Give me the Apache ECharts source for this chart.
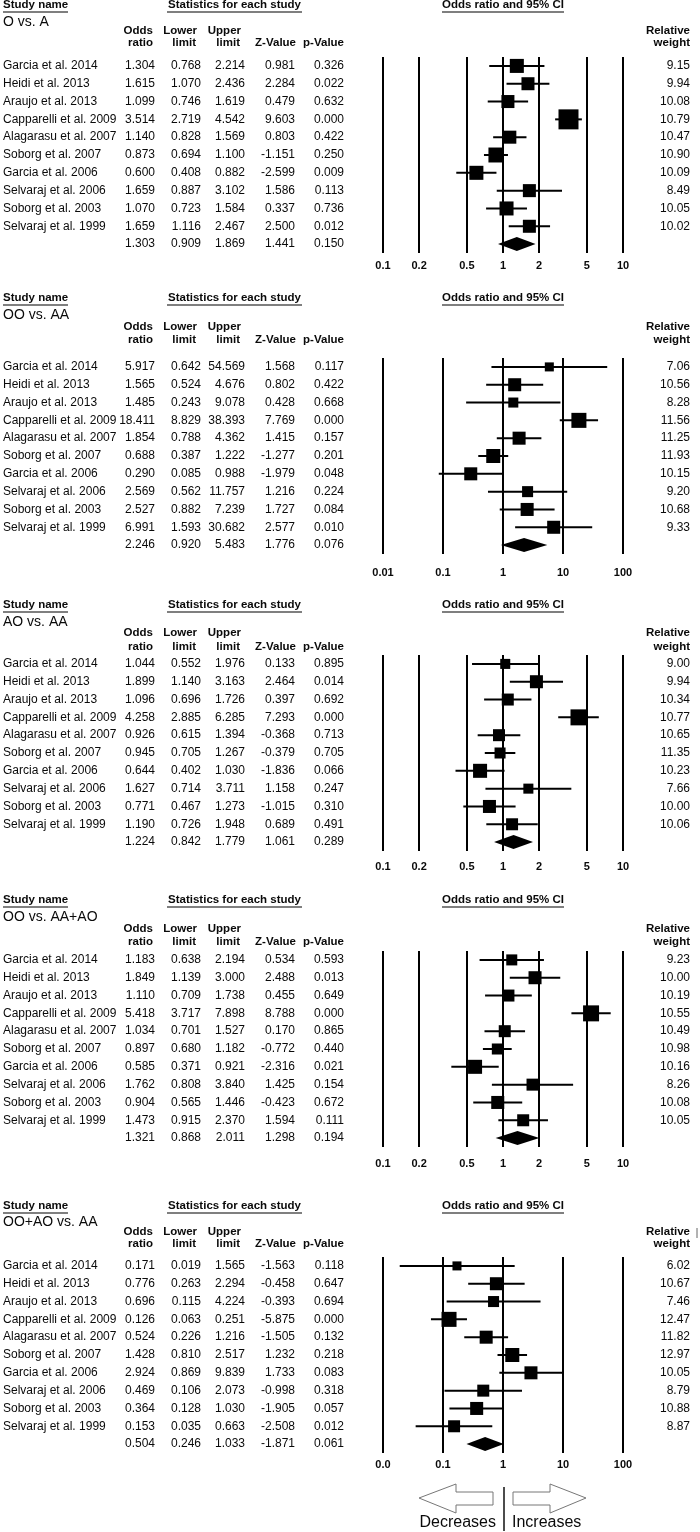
<!DOCTYPE html>
<html><head><meta charset="utf-8">
<script src="https://cdn.jsdelivr.net/npm/echarts@6/dist/echarts.min.js"></script>
<style>html,body{margin:0;padding:0;background:#fff}#c{width:700px;height:1532px}</style>
</head><body><div id="c"></div><script>
// ---------- DATA ----------
const studies = ['Garcia et al. 2014','Heidi et al. 2013','Araujo et al. 2013','Capparelli et al. 2009','Alagarasu et al. 2007','Soborg et al. 2007','Garcia et al. 2006','Selvaraj et al. 2006','Soborg et al. 2003','Selvaraj et al. 1999',''];
const titles = ['O vs. A','OO vs. AA','AO vs. AA','OO vs. AA+AO','OO+AO vs. AA'];

// Panel 1: O vs. A (last entry = pooled)
const or1 = [1.304,1.615,1.099,3.514,1.140,0.873,0.600,1.659,1.070,1.659,1.303];
const lo1 = [0.768,1.070,0.746,2.719,0.828,0.694,0.408,0.887,0.723,1.116,0.909];
const hi1 = [2.214,2.436,1.619,4.542,1.569,1.100,0.882,3.102,1.584,2.467,1.869];
const z1  = [0.981,2.284,0.479,9.603,0.803,-1.151,-2.599,1.586,0.337,2.500,1.441];
const p1  = [0.326,0.022,0.632,0.000,0.422,0.250,0.009,0.113,0.736,0.012,0.150];
const w1  = [9.15,9.94,10.08,10.79,10.47,10.90,10.09,8.49,10.05,10.02];
const fw1 = [12.3,10.6,10.6,25,10.6,14,12.3,10.6,12.3,10.6]; // estimated fixed-effect weights (box area)

// Panel 2: OO vs. AA
const or2 = [5.917,1.565,1.485,18.411,1.854,0.688,0.290,2.569,2.527,6.991,2.246];
const lo2 = [0.642,0.524,0.243,8.829,0.788,0.387,0.085,0.562,0.882,1.593,0.920];
const hi2 = [54.569,4.676,9.078,38.393,4.362,1.222,0.988,11.757,7.239,30.682,5.483];
const z2  = [1.568,0.802,0.428,7.769,1.415,-1.277,-1.979,1.216,1.727,2.577,1.776];
const p2  = [0.117,0.422,0.668,0.000,0.157,0.201,0.048,0.224,0.084,0.010,0.076];
const w2  = [7.06,10.56,8.28,11.56,11.25,11.93,10.15,9.20,10.68,9.33];
const fw2 = [5.1,10.6,6.3,14.1,10.6,12.3,10.6,7.6,10.6,10.6];

// Panel 3: AO vs. AA
const or3 = [1.044,1.899,1.096,4.258,0.926,0.945,0.644,1.627,0.771,1.190,1.224];
const lo3 = [0.552,1.140,0.696,2.885,0.615,0.705,0.402,0.714,0.467,0.726,0.842];
const hi3 = [1.976,3.163,1.726,6.285,1.394,1.267,1.030,3.711,1.273,1.948,1.779];
const z3  = [0.133,2.464,0.397,7.293,-0.368,-0.379,-1.836,1.158,-1.015,0.689,1.061];
const p3  = [0.895,0.014,0.692,0.000,0.713,0.705,0.066,0.247,0.310,0.491,0.289];
const w3  = [9.00,9.94,10.34,10.77,10.65,11.35,10.23,7.66,10.00,10.06];
const fw3 = [6.3,10.6,9,16,9,7.6,12.3,6.3,10.6,9];

// Panel 4: OO vs. AA+AO
const or4 = [1.183,1.849,1.110,5.418,1.034,0.897,0.585,1.762,0.904,1.473,1.321];
const lo4 = [0.638,1.139,0.709,3.717,0.701,0.680,0.371,0.808,0.565,0.915,0.868];
const hi4 = [2.194,3.000,1.738,7.898,1.527,1.182,0.921,3.840,1.446,2.370,2.011];
const z4  = [0.534,2.488,0.455,8.788,0.170,-0.772,-2.316,1.425,-0.423,1.594,1.298];
const p4  = [0.593,0.013,0.649,0.000,0.865,0.440,0.021,0.154,0.672,0.111,0.194];
const w4  = [9.23,10.00,10.19,10.55,10.49,10.98,10.16,8.26,10.08,10.05];
const fw4 = [7.6,10.6,9,16,9,7.6,12.3,9,10.6,9];

// Panel 5: OO+AO vs. AA
const or5 = [0.171,0.776,0.696,0.126,0.524,1.428,2.924,0.469,0.364,0.153,0.504];
const lo5 = [0.019,0.263,0.115,0.063,0.226,0.810,0.869,0.106,0.128,0.035,0.246];
const hi5 = [1.565,2.294,4.224,0.251,1.216,2.517,9.839,2.073,1.030,0.663,1.033];
const z5  = [-1.563,-0.458,-0.393,-5.875,-1.505,1.232,1.733,-0.998,-1.905,-2.508,-1.871];
const p5  = [0.118,0.647,0.694,0.000,0.132,0.218,0.083,0.318,0.057,0.012,0.061];
const w5  = [6.02,10.67,7.46,12.47,11.82,12.97,10.05,8.79,10.88,8.87];
const fw5 = [5.1,10.6,7.6,14.1,10.6,12.3,10.6,9,10.6,9];

const ticksA = [0.1,0.2,0.5,1,2,5,10];
const tickLabelsA = ['0.1','0.2','0.5','1','2','5','10'];
const ticksB = [0.01,0.1,1,10,100];
const tickLabelsB = ['0.01','0.1','1','10','100'];
const tickLabelsE = ['0.0','0.1','1','10','100'];

// ---------- LAYOUT ----------
const FF = '"Liberation Sans", Arial, sans-serif';
const panels = [
  {or:or1,lo:lo1,hi:hi1,z:z1,p:p1,w:w1,fw:fw1,ticks:ticksA,tl:tickLabelsA, sy:5,   ty:22,   h1:31,   h2:43,   row0:66,   lm:7},
  {or:or2,lo:lo2,hi:hi2,z:z2,p:p2,w:w2,fw:fw2,ticks:ticksB,tl:tickLabelsB, sy:298, ty:315,  h1:327,  h2:340,  row0:367,  lm:13},
  {or:or3,lo:lo3,hi:hi3,z:z3,p:p3,w:w3,fw:fw3,ticks:ticksA,tl:tickLabelsA, sy:605, ty:622,  h1:633,  h2:647,  row0:664,  lm:10},
  {or:or4,lo:lo4,hi:hi4,z:z4,p:p4,w:w4,fw:fw4,ticks:ticksA,tl:tickLabelsA, sy:900, ty:917,  h1:929,  h2:942,  row0:960,  lm:11},
  {or:or5,lo:lo5,hi:hi5,z:z5,p:p5,w:w5,fw:fw5,ticks:ticksB,tl:tickLabelsE, sy:1206,ty:1222, h1:1232, h2:1244, row0:1266, lm:6}
];

const chart = echarts.init(document.getElementById('c'), null, {renderer:'canvas'});
const option = {animation:false, backgroundColor:'#fff', grid:[], xAxis:[], yAxis:[], series:[], graphic:[]};
const GL = 383, GW = 240, GH = 196;
const cats = studies.map((_, i) => String(i));
const f3 = a => a.map(v => v.toFixed(3));
const INK = '#0a0a0a';

function txt(text, x, y, font, align) {
  return {type:'text', x, y, silent:true, style:{text, font, fill:INK, align:align||'left', verticalAlign:'middle'}};
}
function hline(x1, x2, y) {
  return {type:'line', silent:true, shape:{x1, y1:y, x2, y2:y}, style:{stroke:'#555', lineWidth:1.5}};
}
const HB = 'bold 11.5px ' + FF;

panels.forEach((P, k) => {
  const top = P.row0 - 9;
  option.grid.push({left:GL, width:GW, top, height:GH});
  option.xAxis.push({
    type:'log', logBase:10, gridIndex:k, min:P.ticks[0], max:P.ticks[P.ticks.length-1],
    axisLine:{show:false}, axisTick:{show:false, customValues:P.ticks}, splitLine:{show:false},
    axisLabel:{customValues:P.ticks, margin:P.lm, color:INK, fontSize:11, fontWeight:'bold', fontFamily:FF,
      formatter: v => { const i = P.ticks.findIndex(t => Math.abs(Math.log10(t) - Math.log10(v)) < 1e-6); return i >= 0 ? P.tl[i] : ''; }}
  });
  const col = (arr, pos, margin, align) => ({
    type:'category', gridIndex:k, data:cats, inverse:true, position:pos,
    axisLine:{show:false, onZero:false}, axisTick:{show:false}, splitLine:{show:false},
    axisLabel:{interval:0, margin, align, color:INK, fontSize:12, fontFamily:FF, formatter:(v, i) => (arr[i] !== undefined ? arr[i] : '')}
  });
  option.yAxis.push(col(studies, 'left', 380, 'left'));
  option.yAxis.push(col(f3(P.or), 'left', GL - 155, 'right'));
  option.yAxis.push(col(f3(P.lo), 'left', GL - 201, 'right'));
  option.yAxis.push(col(f3(P.hi), 'left', GL - 245, 'right'));
  option.yAxis.push(col(f3(P.z), 'left', GL - 295, 'right'));
  option.yAxis.push(col(f3(P.p), 'left', GL - 344, 'right'));
  option.yAxis.push(col(P.w.map(v => v.toFixed(2)), 'right', 690 - (GL + GW), 'right'));

  const data = P.or.map((o, i) => [i, o, P.lo[i], P.hi[i], i < P.fw.length ? P.fw[i] : 0, i === P.or.length - 1 ? 1 : 0]);
  option.series.push({
    type:'custom', xAxisIndex:k, yAxisIndex:k*7, data, encode:{x:[1,2,3], y:0}, silent:true, clip:false,
    renderItem(params, api) {
      const i = api.value(0), o = api.value(1), lo = api.value(2), hi = api.value(3), b = api.value(4), s = api.value(5);
      const pO = api.coord([o, i]), pL = api.coord([lo, i]), pH = api.coord([hi, i]);
      if (s) {
        const h = 7;
        return {type:'polygon', shape:{points:[[pL[0], pO[1]], [pO[0], pO[1]-h], [pH[0], pO[1]], [pO[0], pO[1]+h]]}, style:{fill:'#000'}};
      }
      const sz = 4 * Math.sqrt(b);
      return {type:'group', children:[
        {type:'line', shape:{x1:pL[0], y1:pL[1], x2:pH[0], y2:pH[1]}, style:{stroke:'#000', lineWidth:2}},
        {type:'rect', shape:{x:pO[0]-sz/2, y:pO[1]-sz/2, width:sz, height:sz}, style:{fill:'#000'}}
      ]};
    },
    markLine:{silent:true, symbol:['none','none'], label:{show:false}, animation:false,
      lineStyle:{color:'#000', width:2, type:'solid'}, emphasis:{disabled:true},
      data:P.ticks.map(t => ({xAxis:t}))}
  });

  // headers
  const g = option.graphic;
  g.push(txt('Study name', 3, P.sy, HB));
  g.push(hline(3, 68, P.sy + 7));
  g.push(txt('Statistics for each study', 234.5, P.sy, HB, 'center'));
  g.push(hline(167, 302, P.sy + 7));
  g.push(txt('Odds ratio and 95% CI', 503, P.sy, HB, 'center'));
  g.push(hline(442, 564, P.sy + 7));
  g.push(txt(titles[k], 3, P.ty, '14px ' + FF));
  g.push(txt('Odds', 153, P.h1, HB, 'right'));
  g.push(txt('ratio', 153, P.h2, HB, 'right'));
  g.push(txt('Lower', 197, P.h1, HB, 'right'));
  g.push(txt('limit', 196, P.h2, HB, 'right'));
  g.push(txt('Upper', 241, P.h1, HB, 'right'));
  g.push(txt('limit', 240, P.h2, HB, 'right'));
  g.push(txt('Z-Value', 296, P.h2, HB, 'right'));
  g.push(txt('p-Value', 344, P.h2, HB, 'right'));
  g.push(txt('Relative', 690, P.h1, HB, 'right'));
  g.push(txt('weight', 690, P.h2, HB, 'right'));
});

// small mark at right of last panel header
option.graphic.push({type:'line', silent:true, shape:{x1:697, y1:1228, x2:697, y2:1238}, style:{stroke:'#666', lineWidth:1}});

// direction arrows
const AS = {fill:'#fff', stroke:'#777', lineWidth:1};
option.graphic.push({type:'polygon', silent:true, shape:{points:[[419,1498],[456,1484],[456,1492],[493,1492],[493,1505],[456,1505],[456,1513]]}, style:AS});
option.graphic.push({type:'polygon', silent:true, shape:{points:[[586,1498],[550,1484],[550,1492],[513,1492],[513,1505],[550,1505],[550,1513]]}, style:AS});
option.graphic.push({type:'line', silent:true, shape:{x1:504, y1:1487, x2:504, y2:1531}, style:{stroke:'#111', lineWidth:1.5}});
option.graphic.push(txt('Decreases', 496, 1523, '16px ' + FF, 'right'));
option.graphic.push(txt('Increases', 512, 1523, '16px ' + FF, 'left'));

chart.setOption(option);
</script></body></html>
